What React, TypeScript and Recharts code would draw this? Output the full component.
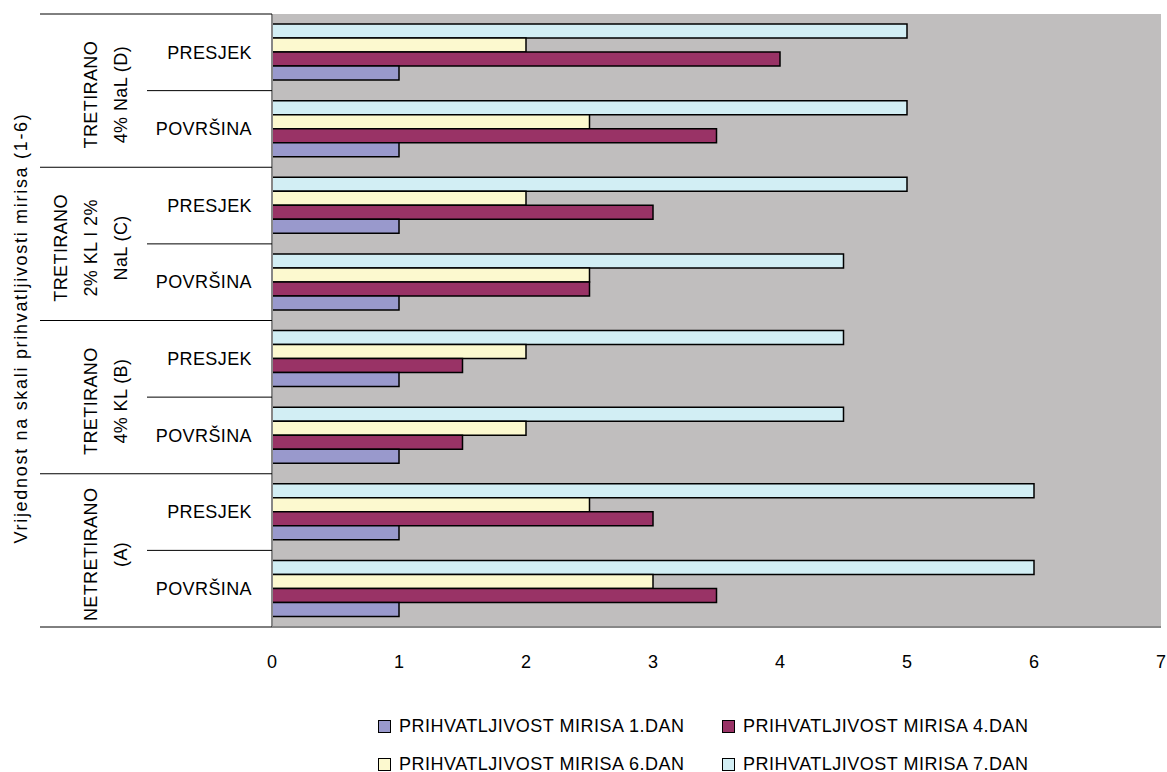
import React from "react";
import { Bar, BarChart, CartesianGrid, XAxis, YAxis } from "recharts";

// rows top to bottom
const rowIds = ["D1", "D2", "C1", "C2", "B1", "B2", "A1", "A2"];
const rowLabels = ["PRESJEK", "POVRŠINA", "PRESJEK", "POVRŠINA", "PRESJEK", "POVRŠINA", "PRESJEK", "POVRŠINA"];
const rowGroup = [0, 0, 1, 1, 2, 2, 3, 3];
const groupLabels = [
  ["TRETIRANO", "4% NaL (D)"],
  ["TRETIRANO", "2% KL I 2%", "NaL (C)"],
  ["TRETIRANO", "4% KL (B)"],
  ["NETRETIRANO", "(A)"],
];

const dan1 = [1, 1, 1, 1, 1, 1, 1, 1];
const dan4 = [4, 3.5, 3, 2.5, 1.5, 1.5, 3, 3.5];
const dan6 = [2, 2.5, 2, 2.5, 2, 2, 2.5, 3];
const dan7 = [5, 5, 5, 4.5, 4.5, 4.5, 6, 6];

const xTicks = [0, 1, 2, 3, 4, 5, 6, 7];

const series = [
  { key: "dan1", name: "PRIHVATLJIVOST MIRISA 1.DAN", color: "#9999cc" },
  { key: "dan4", name: "PRIHVATLJIVOST MIRISA 4.DAN", color: "#993366" },
  { key: "dan6", name: "PRIHVATLJIVOST MIRISA 6.DAN", color: "#fcf9cf" },
  { key: "dan7", name: "PRIHVATLJIVOST MIRISA 7.DAN", color: "#d2eef4" },
];

const data = rowIds.map((id, i) => ({
  id,
  dan1: dan1[i],
  dan4: dan4[i],
  dan6: dan6[i],
  dan7: dan7[i],
}));

const W = 1167;
const H = 772;
const TOP = 14;
const BOTTOM_AXIS = 145;
const LEFT_AXIS = 272;
const RIGHT = 6;
const BAND = (H - BOTTOM_AXIS - TOP) / rowIds.length;
const FONT = '"Liberation Sans", Arial, sans-serif';
const BORDER = "#878787";

function CategoryTick(props: any) {
  const { y, index } = props;
  const top = y - BAND / 2;
  const bottom = y + BAND / 2;
  const first = index % 2 === 0;
  const lines = groupLabels[rowGroup[index]];
  const gy = bottom + 4;
  return (
    <g>
      <text
        x={252}
        y={y}
        dy="0.35em"
        textAnchor="end"
        fontSize={18}
        letterSpacing={0.4}
        fill="#000"
        fontFamily={FONT}
      >
        {rowLabels[index]}
      </text>
      {first && (
        <>
          <line x1={40} x2={LEFT_AXIS} y1={top} y2={top} stroke="#000" strokeWidth={1} />
          <line x1={147} x2={LEFT_AXIS} y1={bottom} y2={bottom} stroke="#000" strokeWidth={1} />
          {lines.map((t, k) => {
            const lx = 121 - 30 * (lines.length - 1 - k);
            return (
              <text
                key={k}
                x={lx}
                y={gy}
                dy="0.35em"
                textAnchor="middle"
                fontSize={18}
                letterSpacing={0.4}
                fill="#000"
                fontFamily={FONT}
                transform={`rotate(-90, ${lx}, ${gy})`}
              >
                {t}
              </text>
            );
          })}
        </>
      )}
      {index === rowIds.length - 1 && (
        <line x1={40} x2={LEFT_AXIS} y1={bottom} y2={bottom} stroke="#000" strokeWidth={1} />
      )}
    </g>
  );
}

// 7.DAN drawn first so it sits on top of each band
const barOrder = ["dan7", "dan6", "dan4", "dan1"];

export default function App() {
  return (
    <div
      style={{
        position: "absolute",
        left: 0,
        top: 0,
        width: W,
        height: H,
        background: "#fff",
        fontFamily: FONT,
      }}
    >
      <BarChart
        width={W}
        height={H}
        data={data}
        layout="vertical"
        margin={{ top: TOP, right: RIGHT, bottom: 0, left: 0 }}
        barSize={14}
        barGap={0}
      >
        <CartesianGrid fill="#c0bebe" horizontal={false} vertical={false} />
        <XAxis
          type="number"
          domain={[0, 7]}
          ticks={xTicks}
          height={BOTTOM_AXIS}
          tickLine={false}
          tickSize={0}
          tickMargin={28}
          axisLine={{ stroke: BORDER, strokeWidth: 2 }}
          tick={{ fontSize: 18, fill: "#000", fontFamily: FONT }}
        />
        <XAxis
          xAxisId="top"
          orientation="top"
          type="number"
          domain={[0, 7]}
          height={0}
          tick={false}
          tickLine={false}
          axisLine={{ stroke: BORDER, strokeWidth: 2 }}
        />
        <YAxis
          type="category"
          dataKey="id"
          width={LEFT_AXIS}
          interval={0}
          tickLine={false}
          axisLine={{ stroke: BORDER, strokeWidth: 2 }}
          tick={<CategoryTick />}
        />
        <YAxis
          yAxisId="right"
          orientation="right"
          type="category"
          dataKey="id"
          width={0}
          tick={false}
          tickLine={false}
          axisLine={{ stroke: BORDER, strokeWidth: 2 }}
        />
        {barOrder.map((k) => {
          const s = series.find((d) => d.key === k)!;
          return (
            <Bar
              key={k}
              dataKey={k}
              name={s.name}
              fill={s.color}
              stroke="#000"
              strokeWidth={1.5}
              isAnimationActive={false}
            />
          );
        })}
      </BarChart>
      <div
        style={{
          position: "absolute",
          left: 21,
          top: 328,
          transform: "translate(-50%, -50%) rotate(-90deg)",
          whiteSpace: "nowrap",
          fontSize: 18,
          letterSpacing: 1.7,
          color: "#000",
        }}
      >
        Vrijednost na skali prihvatljivosti mirisa (1-6)
      </div>
      {series.map((s, i) => (
        <div
          key={s.key}
          style={{
            position: "absolute",
            left: i % 2 === 0 ? 378 : 722,
            top: i < 2 ? 716 : 754,
            display: "flex",
            alignItems: "center",
            fontSize: 18,
            letterSpacing: 0.5,
            color: "#000",
            whiteSpace: "nowrap",
          }}
        >
          <span
            style={{
              display: "inline-block",
              width: 11,
              height: 11,
              border: "1.5px solid #000",
              background: s.color,
              marginRight: 8,
            }}
          />
          {s.name}
        </div>
      ))}
    </div>
  );
}
